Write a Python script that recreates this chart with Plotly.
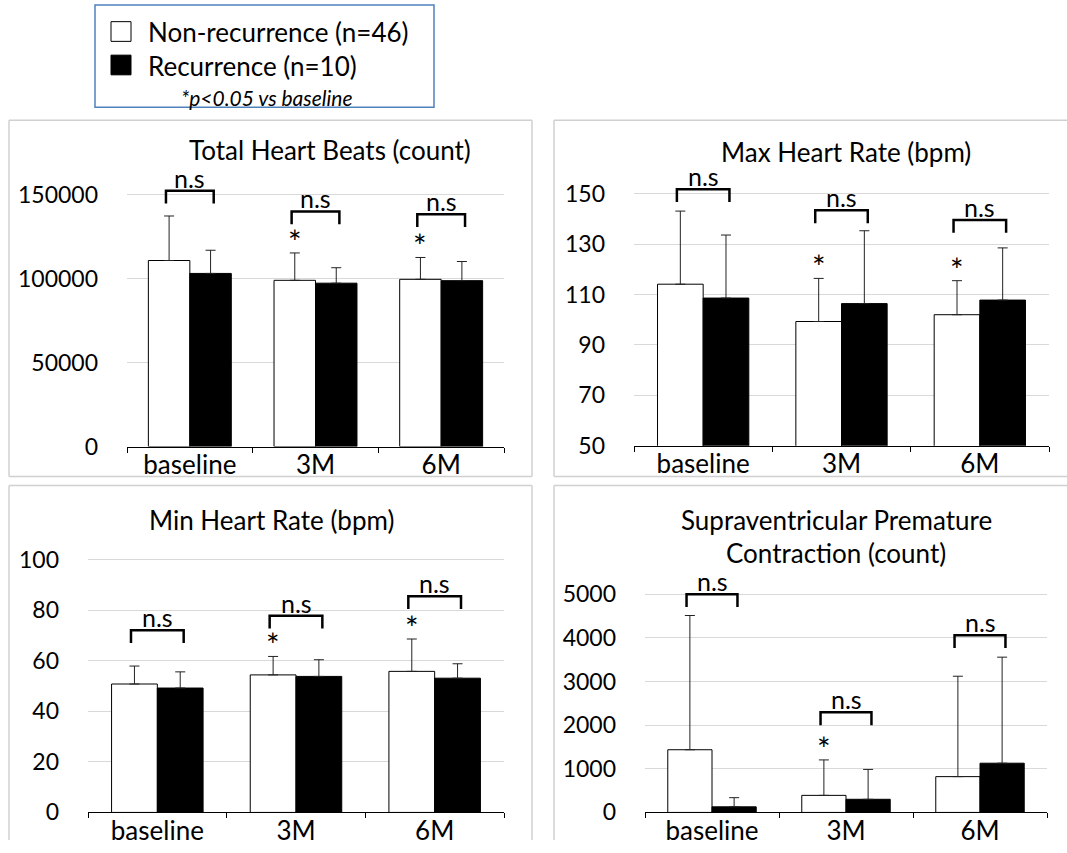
import plotly.graph_objects as go

# ---------------- data ----------------
categories = ["baseline", "3M", "6M"]

thb_non = [110800, 99000, 99600]
thb_non_sd = [26500, 16300, 13000]
thb_rec = [103100, 97300, 98800]
thb_rec_sd = [13800, 9200, 11400]

maxhr_non = [114.1, 99.3, 102.0]
maxhr_non_sd = [29.0, 17.1, 13.5]
maxhr_rec = [108.6, 106.4, 107.8]
maxhr_rec_sd = [25.0, 28.9, 20.7]

minhr_non = [50.8, 54.4, 55.8]
minhr_non_sd = [7.1, 7.3, 12.8]
minhr_rec = [49.2, 53.8, 53.1]
minhr_rec_sd = [6.4, 6.6, 5.7]

spc_non = [1436, 391, 820]
spc_non_sd = [3075, 812, 2300]
spc_rec = [128, 301, 1128]
spc_rec_sd = [210, 684, 2429]

# bracket heights (n.s comparisons)
thb_bracket = [152400, 140000, 138400]
maxhr_bracket = [151.8, 143.4, 139.6]
minhr_bracket = [72.1, 77.8, 85.5]
spc_bracket = [5000, 2293, 4060]

# significance vs baseline (non-recurrence group)
thb_star = [False, True, True]
maxhr_star = [False, True, True]
minhr_star = [False, True, True]
spc_star = [False, True, False]

thb_ticks = [0, 50000, 100000, 150000]
maxhr_ticks = [50, 70, 90, 110, 130, 150]
minhr_ticks = [0, 20, 40, 60, 80, 100]
spc_ticks = [0, 1000, 2000, 3000, 4000, 5000]

series_names = ["Non-recurrence (n=46)", "Recurrence (n=10)"]
note_text = "*p<0.05 vs baseline"

# ---------------- layout helpers ----------------
W, H = 1067, 853
FONT = "Lato"

def px(x):
    return min(max(x, 0), W) / W

def py(y):
    return 1 - min(max(y, 0), H) / H

fig = go.Figure()

panels = [
    dict(title=["Total Heart Beats (count)"], title_xy=[(330, 152)],
         non=thb_non, non_sd=thb_non_sd, rec=thb_rec, rec_sd=thb_rec_sd,
         bracket=thb_bracket, star=thb_star, ticks=thb_ticks, rng=[0, 165000],
         xdom=(127, 504), ydom=(172.1, 453.5), box=(9, 122, 532, 484)),
    dict(title=["Max Heart Rate (bpm)"], title_xy=[(846, 154)],
         non=maxhr_non, non_sd=maxhr_non_sd, rec=maxhr_rec, rec_sd=maxhr_rec_sd,
         bracket=maxhr_bracket, star=maxhr_star, ticks=maxhr_ticks, rng=[50, 160],
         xdom=(634, 1049), ydom=(171.1, 452.7), box=(554, 122, None, 484)),
    dict(title=["Min Heart Rate (bpm)"], title_xy=[(271, 528)],
         non=minhr_non, non_sd=minhr_non_sd, rec=minhr_rec, rec_sd=minhr_rec_sd,
         bracket=minhr_bracket, star=minhr_star, ticks=minhr_ticks, rng=[0, 110],
         xdom=(88, 504), ydom=(542.6, 825), box=(9, 493, 532, None)),
    dict(title=["Supraventricular Premature", "Contraction (count)"],
         title_xy=[(836, 528), (836, 562)],
         non=spc_non, non_sd=spc_non_sd, rec=spc_rec, rec_sd=spc_rec_sd,
         bracket=spc_bracket, star=spc_star, ticks=spc_ticks, rng=[0, 5500],
         xdom=(645, 1047), ydom=(581.2, 825), box=(554, 493, None, None)),
]

BARGAP = 0.34
BAR_OFF = (1 - BARGAP) / 4
BR_OFF = 0.19
BORDER = dict(color="#d0d0d0", width=1.5)

for i, p in enumerate(panels):
    n = i + 1
    xa = "x" if n == 1 else f"x{n}"
    ya = "y" if n == 1 else f"y{n}"
    xk = "xaxis" if n == 1 else f"xaxis{n}"
    yk = "yaxis" if n == 1 else f"yaxis{n}"

    fig.add_trace(go.Bar(
        x=categories, y=p["non"], name=series_names[0], showlegend=False,
        marker=dict(color="white", line=dict(color="black", width=1)),
        error_y=dict(type="data", symmetric=False, array=p["non_sd"],
                     arrayminus=[0] * 3, color="#222222", thickness=1, width=5),
        xaxis=xa, yaxis=ya, offsetgroup="a"))
    fig.add_trace(go.Bar(
        x=categories, y=p["rec"], name=series_names[1], showlegend=False,
        marker=dict(color="black", line=dict(color="black", width=1)),
        error_y=dict(type="data", symmetric=False, array=p["rec_sd"],
                     arrayminus=[0] * 3, color="#222222", thickness=1, width=5),
        xaxis=xa, yaxis=ya, offsetgroup="b"))

    fig.layout[xk] = dict(
        domain=[px(p["xdom"][0]), px(p["xdom"][1])], anchor=ya,
        type="category", tickson="boundaries", ticks="outside", ticklen=5,
        tickcolor="black", showline=True, linecolor="black", linewidth=1,
        showgrid=False, ticklabelstandoff=-5,
        tickfont=dict(family=FONT, size=26, color="black"),
        fixedrange=True)
    fig.layout[yk] = dict(
        domain=[py(p["ydom"][1]), py(p["ydom"][0])], anchor=xa,
        range=p["rng"], tickmode="array", tickvals=p["ticks"], tickformat="d",
        showgrid=True, gridcolor="#d9d9d9", gridwidth=1, zeroline=False,
        showline=False, ticks="", ticklabelstandoff=28,
        tickfont=dict(family=FONT, size=23, color="black"), fixedrange=True)

    # bracket leg length ~13 px converted to data units
    span = p["rng"][1] - p["rng"][0]
    leg = 13 / (p["ydom"][1] - p["ydom"][0]) * span

    for k, yb in enumerate(p["bracket"]):
        fig.add_shape(type="path",
                      path=f"M {k - BR_OFF},{yb - leg} L {k - BR_OFF},{yb} "
                           f"L {k + BR_OFF},{yb} L {k + BR_OFF},{yb - leg}",
                      xref=xa, yref=ya, line=dict(color="black", width=2.5))
        fig.add_annotation(x=k, y=yb, xref=xa, yref=ya, text="n.s",
                           showarrow=False, yanchor="bottom", yshift=-4,
                           font=dict(family=FONT, size=25, color="black"))
        if p["star"][k]:
            fig.add_annotation(x=k - BAR_OFF, y=p["non"][k] + p["non_sd"][k],
                               xref=xa, yref=ya, text="*", showarrow=False,
                               yanchor="bottom", yshift=-10,
                               font=dict(family=FONT, size=32, color="black"))

    for t, (tx, ty) in zip(p["title"], p["title_xy"]):
        fig.add_annotation(x=px(tx), y=py(ty), xref="paper", yref="paper",
                           text=t, showarrow=False, xanchor="center",
                           yanchor="middle",
                           font=dict(family=FONT, size=26, color="black"))

    # panel frame (only the edges that fall inside the page)
    bx0, by0, bx1, by1 = p["box"]
    xr = bx1 if bx1 is not None else W
    yb_ = by1 if by1 is not None else H
    segs = [((bx0, by0), (xr, by0)), ((bx0, by0), (bx0, yb_))]
    if bx1 is not None:
        segs.append(((bx1, by0), (bx1, yb_)))
    if by1 is not None:
        segs.append(((bx0, by1), (xr, by1)))
    for (sx0, sy0), (sx1, sy1) in segs:
        fig.add_shape(type="line", xref="paper", yref="paper",
                      x0=px(sx0), x1=px(sx1), y0=py(sy0), y1=py(sy1),
                      line=BORDER, layer="below")

# ---------------- legend box ----------------
fig.add_shape(type="rect", xref="paper", yref="paper",
              x0=px(95), x1=px(434), y0=py(109), y1=py(5),
              line=dict(color="#4f81bd", width=1.5))
fig.add_shape(type="rect", xref="paper", yref="paper",
              x0=px(111), x1=px(131), y0=py(42), y1=py(22),
              fillcolor="white", line=dict(color="black", width=1))
fig.add_shape(type="rect", xref="paper", yref="paper",
              x0=px(111), x1=px(131), y0=py(76), y1=py(56),
              fillcolor="black", line=dict(color="black", width=1))
fig.add_annotation(x=px(146), y=py(33), xref="paper", yref="paper",
                   text=series_names[0], showarrow=False, xanchor="left",
                   yanchor="middle", font=dict(family=FONT, size=26, color="black"))
fig.add_annotation(x=px(146), y=py(67), xref="paper", yref="paper",
                   text=series_names[1], showarrow=False, xanchor="left",
                   yanchor="middle", font=dict(family=FONT, size=26, color="black"))
fig.add_annotation(x=px(267), y=py(99), xref="paper", yref="paper",
                   text=f"<i>{note_text}</i>", showarrow=False, xanchor="center",
                   yanchor="middle", font=dict(family=FONT, size=21, color="black"))

fig.update_layout(
    width=W, height=H, autosize=False,
    margin=dict(l=0, r=0, t=0, b=0, pad=0),
    paper_bgcolor="white", plot_bgcolor="white",
    barmode="group", bargap=BARGAP, bargroupgap=0,
    showlegend=False, font=dict(family=FONT, color="black"),
)

fig.write_html("out.html", config={"displayModeBar": False},
               post_script="document.body.style.margin='0';")
